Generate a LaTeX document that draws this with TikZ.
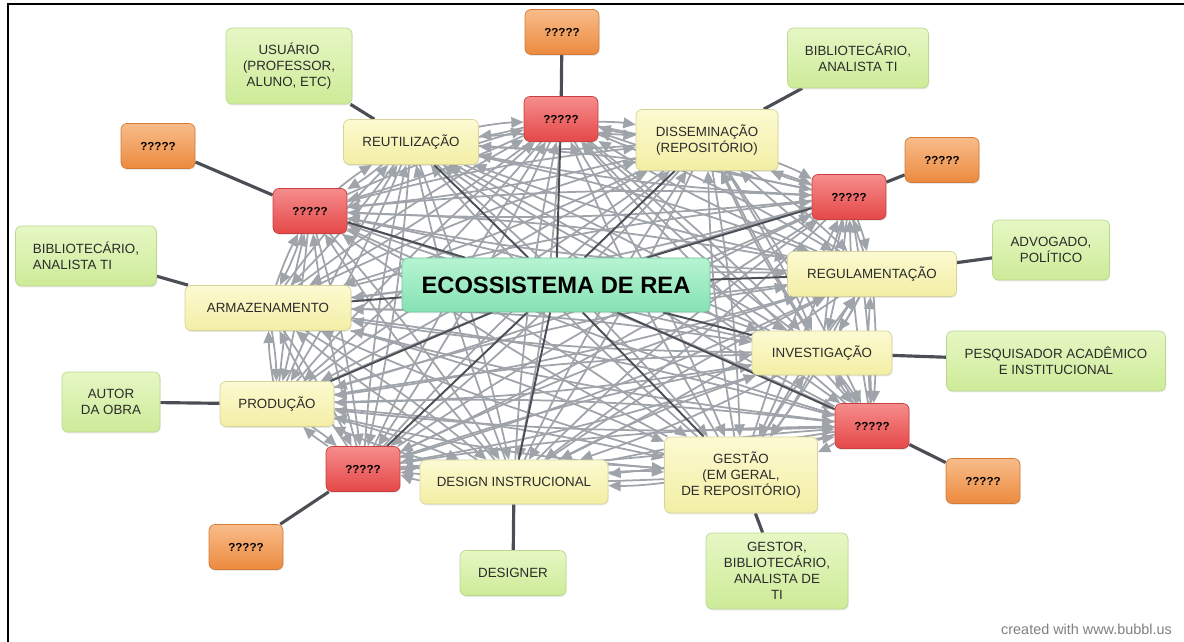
\documentclass[tikz,border=0pt]{standalone}
\usepackage{fontspec}
\setmainfont{Liberation Sans}
\usetikzlibrary{arrows.meta,backgrounds,shadows}

\definecolor{txt}{HTML}{2B2B2B}
\definecolor{ringtop}{HTML}{FCFAD2}
\definecolor{ringbot}{HTML}{F3EEA4}
\definecolor{ringline}{HTML}{D8D39A}
\definecolor{actortop}{HTML}{E6F7C4}
\definecolor{actorbot}{HTML}{CDEB98}
\definecolor{actorline}{HTML}{B9D98E}
\definecolor{querytop}{HTML}{F68C8C}
\definecolor{querybot}{HTML}{E54848}
\definecolor{queryline}{HTML}{C84040}
\definecolor{extratop}{HTML}{F8BC8A}
\definecolor{extrabot}{HTML}{EC8A3E}
\definecolor{extraline}{HTML}{D27A38}
\definecolor{hubtop}{HTML}{B6F4D2}
\definecolor{hubbot}{HTML}{86E2B4}
\definecolor{hubline}{HTML}{6FC79B}
\definecolor{relgrey}{HTML}{9FA3AA}
\definecolor{linkgrey}{HTML}{4B4F55}

\tikzset{
  box/.style={draw, rounded corners=0.12cm, align=center, text=txt,
    font=\fontsize{7.6}{9.2}\selectfont, inner sep=2pt,
    drop shadow={opacity=0.18, shadow xshift=0.4pt, shadow yshift=-0.8pt}},
  ring/.style={box, draw=ringline, top color=ringtop, bottom color=ringbot, minimum height=0.9cm},
  actor/.style={box, draw=actorline, top color=actortop, bottom color=actorbot, minimum height=1.2cm},
  query/.style={box, draw=queryline, top color=querytop, bottom color=querybot,
    minimum width=1.48cm, minimum height=0.9cm, text=black, font=\bfseries\fontsize{6.6}{8}\selectfont},
  extra/.style={query, draw=extraline, top color=extratop, bottom color=extrabot},
  hub/.style={box, draw=hubline, top color=hubtop, bottom color=hubbot,
    minimum width=6.16cm, minimum height=1.08cm, text=black, font=\bfseries\fontsize{13.5}{16}\selectfont},
  relation/.style={draw=relgrey, line width=1pt, -{Triangle[length=7pt,width=6pt]}},
  spoke/.style={draw=linkgrey, line width=1.1pt},
  link/.style={draw=linkgrey, line width=1.8pt}
}

\begin{document}
\begin{tikzpicture}[x=0.02cm, y=-0.02cm]
	\useasboundingbox (0,0) rectangle (1184,642);
	\draw[line width=1.2pt] (8,642) -- (8,4) -- (1184,4);

	\node[hub] (hub) at (556,285) {ECOSSISTEMA DE REA};

	% ring of stages
	\node[ring, minimum width=2.7cm] (reu) at (411,142) {REUTILIZAÇÃO};
	\node[ring, minimum width=2.84cm, minimum height=1.22cm] (dis) at (707,140) {DISSEMINAÇÃO\\(REPOSITÓRIO)};
	\node[ring, minimum width=3.38cm] (reg) at (872,274) {REGULAMENTAÇÃO};
	\node[ring, minimum width=2.8cm, minimum height=0.88cm] (inv) at (822,353) {INVESTIGAÇÃO};
	\node[ring, minimum width=3.06cm, minimum height=1.52cm] (ges) at (741,475) {GESTÃO\\(EM GERAL,\\DE REPOSITÓRIO)};
	\node[ring, minimum width=3.76cm, minimum height=0.88cm] (des) at (514,482) {DESIGN INSTRUCIONAL};
	\node[ring, minimum width=2.28cm] (pro) at (277,404) {PRODUÇÃO};
	\node[ring, minimum width=3.32cm] (arm) at (268,308) {ARMAZENAMENTO};

	\node[query] (qa) at (561,119) {?????};
	\node[query] (qb) at (310,211) {?????};
	\node[query] (qc) at (849,197) {?????};
	\node[query] (qd) at (872,426) {?????};
	\node[query] (qe) at (363,469) {?????};

	% outer ring
	\node[extra] (xa) at (562,32) {?????};
	\node[extra] (xb) at (158,146) {?????};
	\node[extra] (xc) at (942,160) {?????};
	\node[extra] (xd) at (983,481) {?????};
	\node[extra] (xe) at (246,547) {?????};

	\node[actor, minimum width=2.52cm, minimum height=1.52cm] (usu) at (289,66) {USUÁRIO\\(PROFESSOR,\\ALUNO, ETC)};
	\node[actor, minimum width=2.82cm] (bibr) at (858,58) {BIBLIOTECÁRIO,\\ANALISTA TI};
	\node[actor, minimum width=2.82cm, align=left] (bibl) at (86,256) {BIBLIOTECÁRIO,\\ANALISTA TI\hspace*{1.4em}};
	\node[actor, minimum width=2.34cm] (adv) at (1051,250) {ADVOGADO,\\POLÍTICO};
	\node[actor, minimum width=4.38cm] (pes) at (1056,361) {PESQUISADOR ACADÊMICO\\E INSTITUCIONAL};
	\node[actor, minimum width=2.84cm, minimum height=1.52cm] (gstr) at (777,571) {GESTOR,\\BIBLIOTECÁRIO,\\ANALISTA DE\\TI};
	\node[actor, minimum width=2.12cm, minimum height=0.9cm] (dsgn) at (513,573) {DESIGNER};
	\node[actor, minimum width=1.96cm] (aut) at (111,402) {AUTOR\\DA OBRA};

	\node[text=black!50, font=\fontsize{8.2}{10}\selectfont, anchor=east] (credit) at (1178,629) {created with www.bubbl.us};

	\begin{scope}[on background layer]
		\foreach \a in {reu,qa,dis,qc,reg,inv,qd,ges,des,qe,pro,arm,qb}
			\foreach \b in {reu,qa,dis,qc,reg,inv,qd,ges,des,qe,pro,arm,qb}
				{\ifx\a\b\else \draw[relation] (\a) to[bend left=4] (\b);\fi}
		\foreach \n in {reu,qa,dis,qc,reg,inv,qd,ges,des,qe,pro,arm,qb}
			\draw[spoke] (hub) -- (\n);
		\draw[link] (usu) -- (reu);
		\draw[link] (bibr) -- (dis);
		\draw[link] (bibl) -- (arm);
		\draw[link] (adv) -- (reg);
		\draw[link] (pes) -- (inv);
		\draw[link] (gstr) -- (ges);
		\draw[link] (dsgn) -- (des);
		\draw[link] (aut) -- (pro);
		\draw[link] (xa) -- (qa);
		\draw[link] (xb) -- (qb);
		\draw[link] (xc) -- (qc);
		\draw[link] (xd) -- (qd);
		\draw[link] (xe) -- (qe);
	\end{scope}
\end{tikzpicture}
\end{document}
